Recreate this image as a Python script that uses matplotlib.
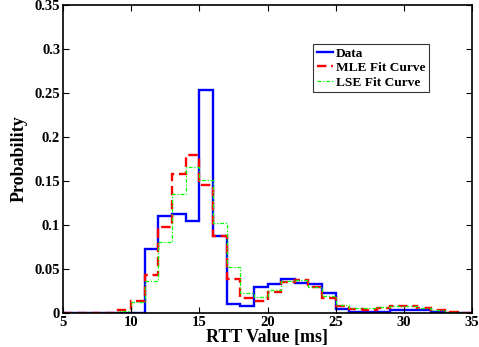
import numpy as np
import matplotlib
matplotlib.use("Agg")
import matplotlib.pyplot as plt

plt.rcParams['font.family'] = ['Liberation Serif', 'DejaVu Serif']
plt.rcParams['font.weight'] = 'bold'

# bin edges 5..35 ms, 1 ms wide
edges = np.arange(5, 36)
data = [0, 0, 0, 0, 0, 0,
        0.073, 0.110, 0.112, 0.104, 0.253, 0.087, 0.010, 0.008, 0.030, 0.033,
        0.039, 0.034, 0.033, 0.023, 0.005, 0.0015, 0.0015, 0.0015, 0.0035,
        0.0035, 0.0035, 0.001, 0, 0]
mle = [0, 0, 0, 0.0005, 0.003, 0.014, 0.043, 0.098, 0.158, 0.180, 0.146,
       0.087, 0.039, 0.017, 0.014, 0.024, 0.035, 0.037, 0.029, 0.017, 0.008,
       0.0045, 0.0035, 0.006, 0.008, 0.008, 0.006, 0.003, 0.001, 0.0005]
lse = [0, 0, 0, 0.0005, 0.002, 0.012, 0.036, 0.081, 0.135, 0.166, 0.151,
       0.102, 0.052, 0.023, 0.018, 0.026, 0.036, 0.038, 0.029, 0.019, 0.0095,
       0.006, 0.0055, 0.007, 0.008, 0.008, 0.006, 0.003, 0.0015, 0.0005]

xticks = [5, 10, 15, 20, 25, 30, 35]
yticks = [0, 0.05, 0.1, 0.15, 0.2, 0.25, 0.3, 0.35]
ytick_labels = ['0', '0.05', '0.1', '0.15', '0.2', '0.25', '0.3', '0.35']

fig = plt.figure(figsize=(4.79, 3.47), dpi=100)
ax = fig.add_axes([63/479, 1 - 313/347, 409/479, 308/347])

ax.stairs(data, edges, color='#0000ff', linewidth=1.7, label='Data')
ax.stairs(mle, edges, color='#ff0000', linewidth=1.7, linestyle=(0, (4, 2)),
          label='MLE Fit Curve')
ax.stairs(lse, edges, color='#00ff00', linewidth=0.9, linestyle=(0, (3, 1.5, 1, 1.5)),
          label='LSE Fit Curve')

ax.set_xlim(5, 35)
ax.set_ylim(0, 0.35)
ax.set_xticks(xticks)
ax.set_yticks(yticks)
ax.set_yticklabels(ytick_labels)
ax.tick_params(direction='in', top=True, right=True, labelsize=10.5, length=4, pad=2)
for s in ax.spines.values():
    s.set_linewidth(1.2)

ax.set_xlabel('RTT Value [ms]', fontsize=13, fontweight='bold', labelpad=0)
ax.set_ylabel('Probability', fontsize=13, fontweight='bold', labelpad=5)

leg = ax.legend(loc='upper left', bbox_to_anchor=(0.612, 0.875), fontsize=9.6,
                frameon=True, fancybox=False, edgecolor='black',
                handlelength=1.2, handletextpad=0.2, borderpad=0.3,
                labelspacing=0.15, borderaxespad=0)
leg.get_frame().set_linewidth(0.8)

fig.savefig('out.png', dpi=100)
